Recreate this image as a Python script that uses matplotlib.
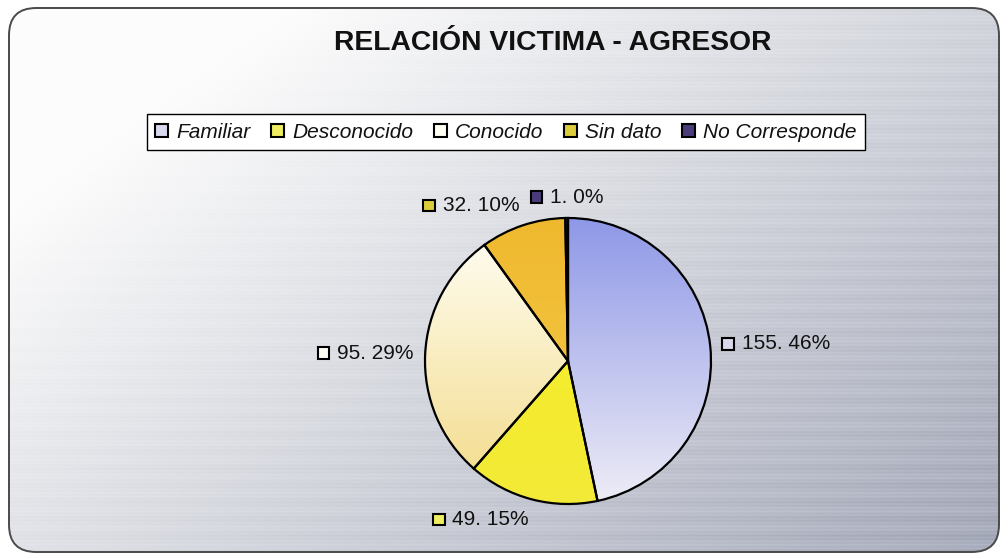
import numpy as np
import matplotlib
matplotlib.use("Agg")
import matplotlib.pyplot as plt
from matplotlib.patches import FancyBboxPatch, Rectangle, Patch
from matplotlib.offsetbox import DrawingArea, TextArea, HPacker, AnnotationBbox

plt.rcParams["font.family"] = ["Liberation Sans", "DejaVu Sans"]

# data
categories = ["Familiar", "Desconocido", "Conocido", "Sin dato", "No Corresponde"]
counts = [155, 49, 95, 32, 1]
pct_labels = [46, 15, 29, 10, 0]
title = "RELACIÓN VICTIMA - AGRESOR"

# wedge fills (top colour, bottom colour) and key colours
fills = [("#8f98e7", "#eeedf6"), ("#f7ef22", "#f3ea38"), ("#fffff8", "#f3da86"),
         ("#efb92e", "#f6cc4c"), ("#4a3c7a", "#4a3c7a")]
keys = ["#d8d8ee", "#eeee60", "#fffff4", "#dccc3c", "#4a3c7a"]

W, H = 1008, 559
fig = plt.figure(figsize=(W / 100, H / 100), dpi=100)
fig.patch.set_facecolor("white")

# background panel: soft gradient with faint horizontal streaks
bg = fig.add_axes([0, 0, 1, 1])
bg.set_xlim(0, 1)
bg.set_ylim(0, 1)
bg.axis("off")
yy, xx = np.mgrid[0:H, 0:W]
u = xx / W
v = yy / H
t = np.clip(0.65 * u + 0.5 * v - 0.2, 0, 1)
streak = (np.sin(yy * 1.7) * 0.5 + np.sin(yy * 0.37 + 1.3) * 0.5) * 0.04 * t
light = np.array([252, 252, 252]) / 255
dark = np.array([160, 165, 182]) / 255
img = light * (1 - t[..., None]) + dark * t[..., None] + streak[..., None]
img = np.clip(img, 0, 1)
frame = FancyBboxPatch((9 / W, 7 / H), 990 / W, 544 / H,
                       boxstyle="round,pad=0,rounding_size=0.027",
                       transform=bg.transAxes, facecolor="none",
                       edgecolor="#4a4a4a", linewidth=1.4, zorder=3,
                       mutation_aspect=W / H)
bg.add_patch(frame)
im = bg.imshow(img, extent=(0, 1, 0, 1), aspect="auto", zorder=0)
im.set_clip_path(frame)

fig.text(553 / W, 1 - 43 / H, title, ha="center", va="center",
         fontsize=20.3, fontweight="bold", color="#111111")

# pie
cx, cy, r = 568, 361, 143
ax = fig.add_axes([(cx - r) / W, 1 - (cy + r) / H, 2 * r / W, 2 * r / H])
ax.axis("off")
wedges, _ = ax.pie(counts, startangle=90, counterclock=False, radius=1,
                   colors=[f[1] for f in fills],
                   wedgeprops=dict(edgecolor="black", linewidth=1.6))
for w, (ctop, cbot) in zip(wedges, fills):
    grad = np.linspace(0, 1, 200)[:, None, None]
    c0 = np.array(matplotlib.colors.to_rgb(ctop))
    c1 = np.array(matplotlib.colors.to_rgb(cbot))
    arr = c0 * (1 - grad) + c1 * grad
    arr = np.repeat(arr, 2, axis=1)
    gi = ax.imshow(arr, extent=(-1, 1, -1, 1), origin="upper",
                   aspect="auto", interpolation="bilinear", zorder=0.5)
    gi.set_clip_path(w)
    w.set_facecolor("none")
    w.set_zorder(1)
ax.set_xlim(-1, 1)
ax.set_ylim(-1, 1)

# data labels with legend key
for w, n, p, kc in zip(wedges, counts, pct_labels, keys):
    th = np.deg2rad((w.theta1 + w.theta2) / 2)
    c, s = np.cos(th), np.sin(th)
    x, y = 1.08 * c, 1.08 * s
    fx = 1.0 if c < -0.15 else (0.0 if c > 0.15 else 0.5)
    fy = 0.5 - 0.5 * s
    da = DrawingArea(9.5, 9.5, 0, 0)
    da.add_artist(Rectangle((0.6, 0.6), 8.3, 8.3, facecolor=kc,
                            edgecolor="black", linewidth=1.5))
    ta = TextArea(f"{n}. {p}%", textprops=dict(fontsize=15, color="#111111"))
    box = HPacker(children=[da, ta], align="center", pad=0, sep=5)
    ab = AnnotationBbox(box, (x, y), xycoords="data", box_alignment=(fx, fy),
                        frameon=False, pad=0, annotation_clip=False)
    ax.add_artist(ab)

handles = [Patch(facecolor=k, edgecolor="black", linewidth=1.5) for k in keys]
leg = fig.legend(handles, categories, loc="center",
                 bbox_to_anchor=(506 / W, 1 - 132 / H), ncol=5,
                 prop=dict(size=15, style="italic"), frameon=True,
                 fancybox=False, edgecolor="black", framealpha=1,
                 borderpad=0.4, handlelength=0.6, handleheight=0.6,
                 handletextpad=0.4, columnspacing=1.0, borderaxespad=0)
leg.get_frame().set_linewidth(1.0)
for txt in leg.get_texts():
    txt.set_color("#111111")

fig.savefig("out.png", dpi=100)
